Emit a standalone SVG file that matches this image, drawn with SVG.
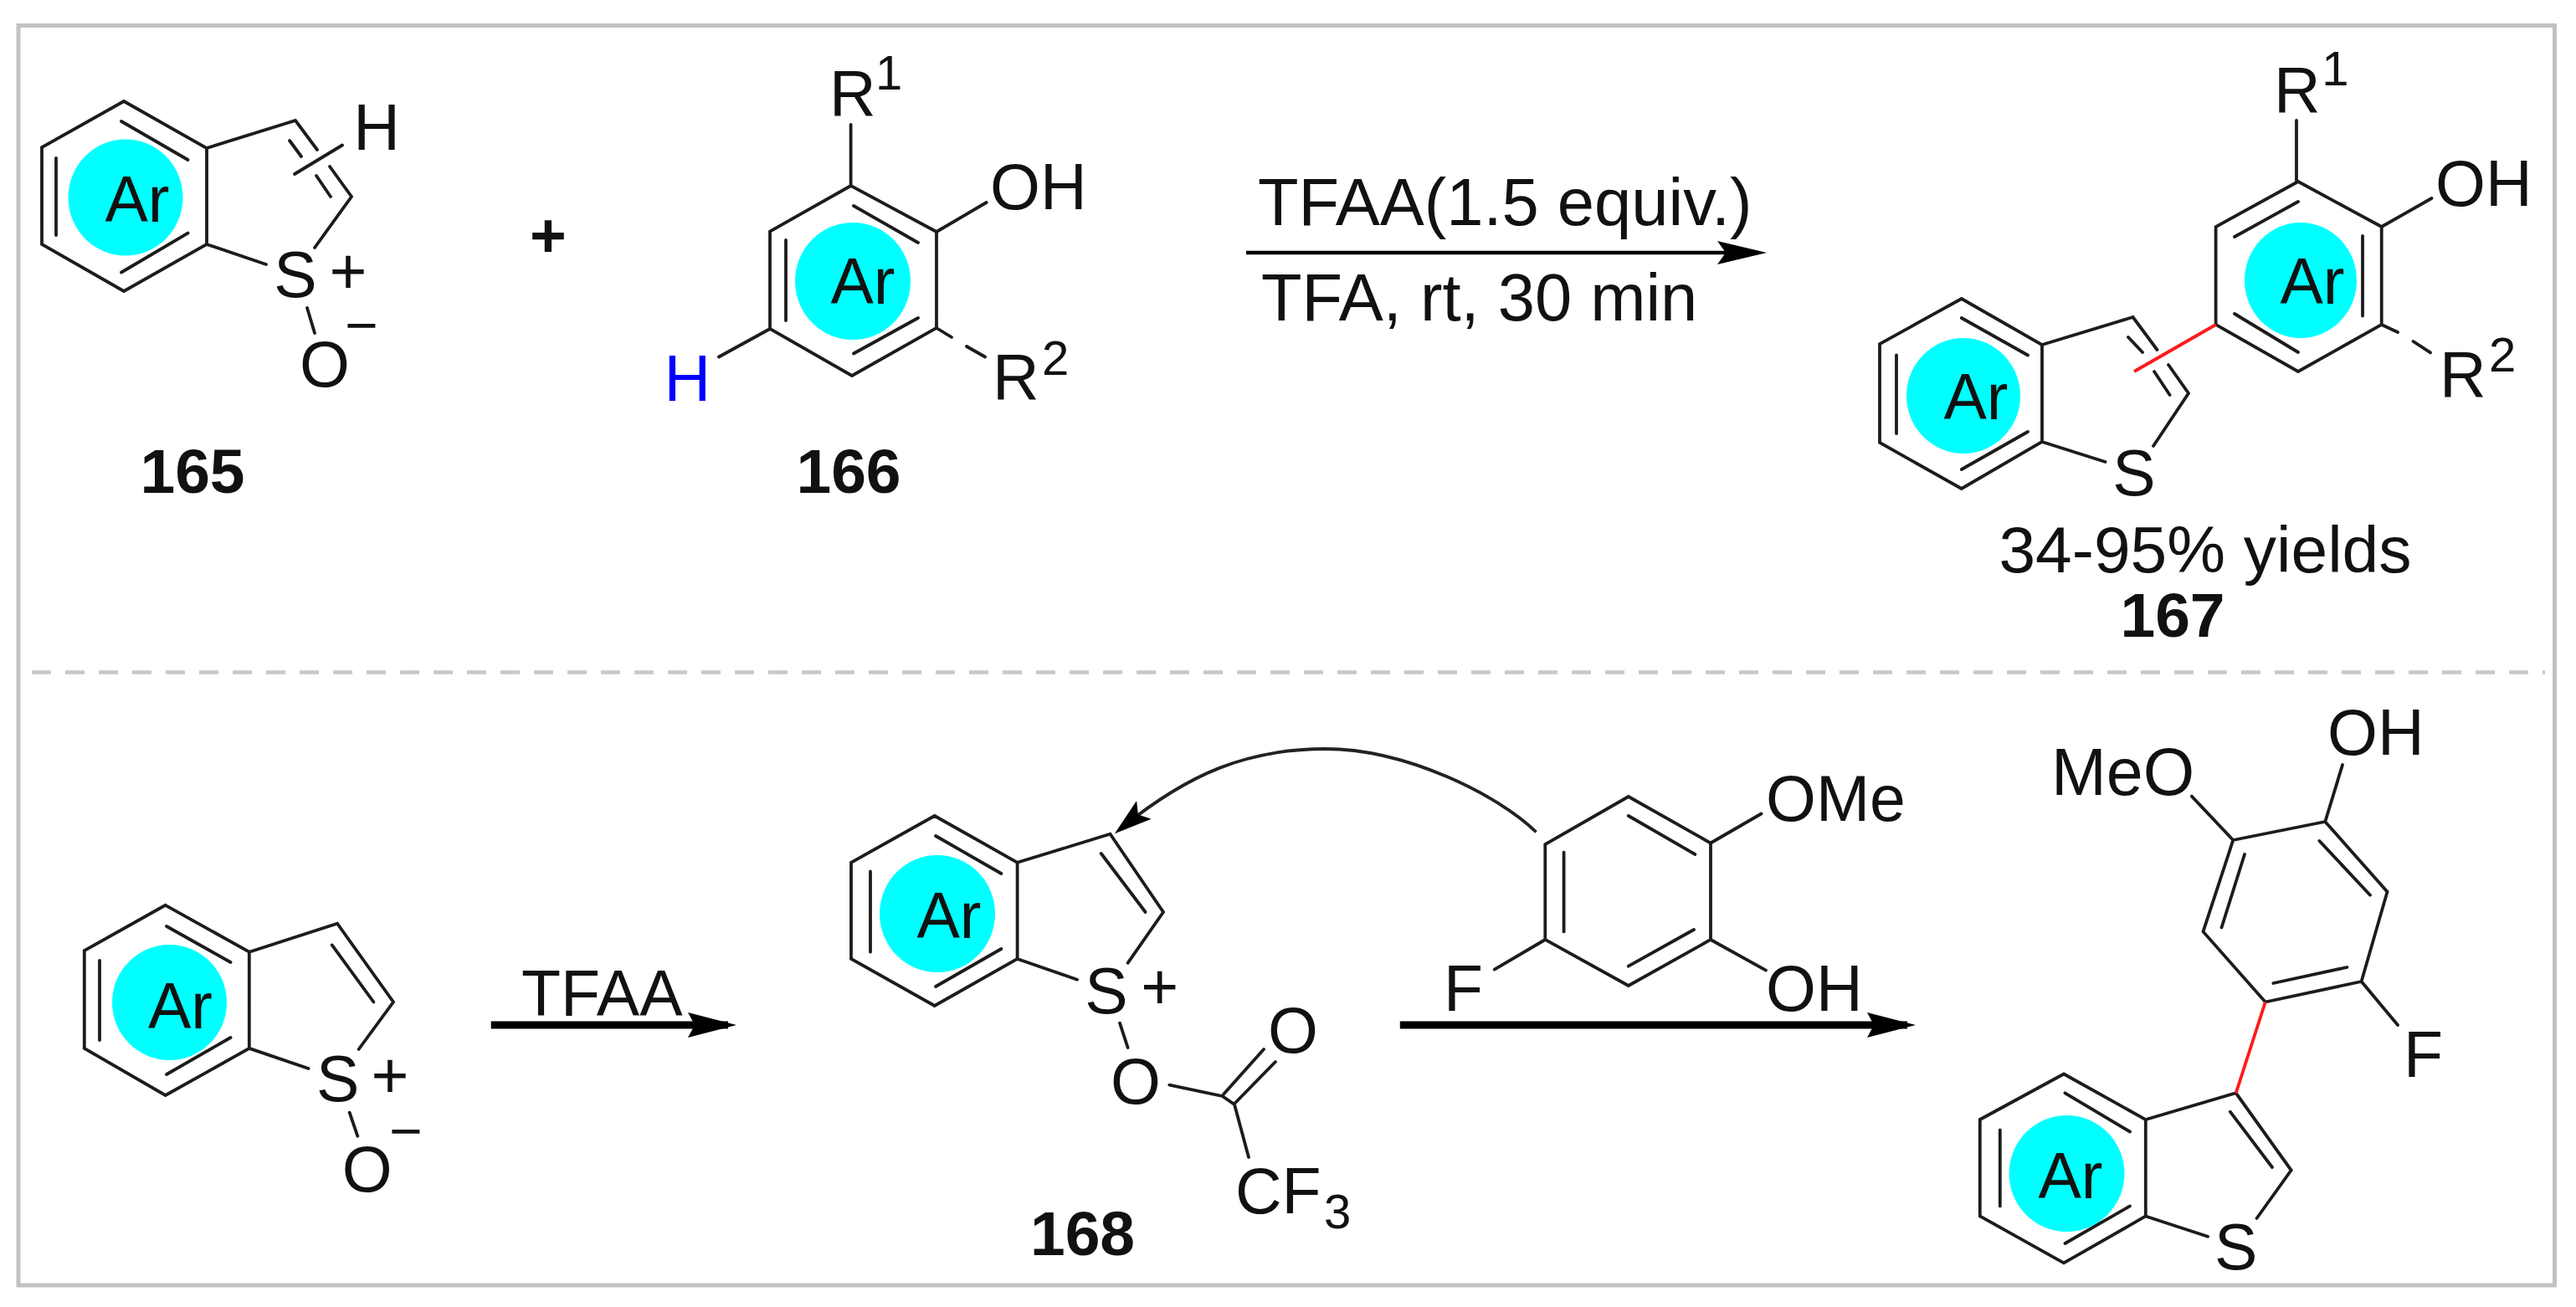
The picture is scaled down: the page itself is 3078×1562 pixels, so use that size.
<svg xmlns="http://www.w3.org/2000/svg" width="3078" height="1562" viewBox="0 0 3078 1562">
<style>
text{font-family:"Liberation Sans",Arial,sans-serif;font-size:77px;fill:#111}
.m{text-anchor:middle}
.b{font-weight:bold;font-size:75px}
.s{font-size:58px}
.r{font-size:79.500px}
.q{font-size:68px}
.bond{fill:none;stroke:#1c1c1c;stroke-width:3.8;stroke-linecap:round;stroke-linejoin:miter}
.ar{fill:#00ffff}
.red{stroke:#ff1a1a;stroke-width:3.8;fill:none}
</style>
<defs>
<marker id="thin" markerUnits="userSpaceOnUse" markerWidth="60" markerHeight="32" viewBox="0 0 60 32" refX="49" refY="16" orient="auto"><path d="M0 2 L59 16 L0 30 L10 16Z" fill="#000"/></marker>
<marker id="thick" markerUnits="userSpaceOnUse" markerWidth="60" markerHeight="34" viewBox="0 0 60 34" refX="48" refY="17" orient="auto"><path d="M0 2 L58 17 L0 32 L8 17Z" fill="#000"/></marker>
<marker id="curve" markerUnits="userSpaceOnUse" markerWidth="46" markerHeight="30" viewBox="0 0 46 30" refX="32" refY="15" orient="auto"><path d="M45 15 L0 1 L9 15 L0 29Z" fill="#000"/></marker>
</defs>
<rect width="3078" height="1562" fill="#fff"/>
<g id="frame">
<rect x="22" y="30.5" width="3030.5" height="1505.5" fill="none" stroke="#c2c2c2" stroke-width="5"/>
<line x1="38" y1="803.5" x2="3041" y2="803.5" stroke="#c8c8c8" stroke-width="4.5" stroke-dasharray="23 17"/>
</g>

<g id="n165">
<ellipse class="ar" cx="150" cy="236" rx="68.5" ry="69.5"/>
<path class="bond" d="M148 121L247 177V292L148 348L50 292V176ZM145 145L224.500 191M67 189V281M145 325.500L224.500 278.600M247 177L353 144L379 179M394 199L420 235L376 296M247 292L318 316M346 168L360 187M378 210L395 235M352 208L409 173.500M367 368L376 398"/>
<text class="m" x="164" y="265">Ar</text>
<text class="m" x="450" y="178.500">H</text>
<text class="m" x="353" y="355">S</text>
<text class="m" x="416" y="351">+</text>
<text class="m" x="388" y="462">O</text>
<text class="m q" x="432" y="412">−</text>
<text class="m b" x="230" y="589">165</text>
</g>
<text id="plus" class="m b" x="655" y="307">+</text>

<g id="n166">
<ellipse class="ar" cx="1019" cy="336" rx="69" ry="70"/>
<path class="bond" d="M1016.600 222L1119 277V392L1018 449L920 393V276.500ZM1020 246L1097 290M939 287V383M1020 422.500L1097 380M1016.600 149V222M1119 277L1178.600 242M1119 392L1137 403M1155 414L1177 426.500M859 426.500L920 393"/>
<text class="m" x="1031" y="363">Ar</text>
<text x="991" y="138">R</text>
<text class="s" x="1046" y="107">1</text>
<text x="1183" y="250">OH</text>
<text x="1186" y="477">R</text>
<text class="s" x="1245" y="448">2</text>
<text class="m" x="821.400" y="478.500" style="fill:#0000ff">H</text>
<text class="m b" x="1014" y="589">166</text>
</g>

<g id="conditions">
<text class="r" x="1503" y="269">TFAA(1.5 equiv.)</text>
<text class="r" x="1507" y="382.500">TFA, rt, 30 min</text>
</g>

<g id="n167">
<ellipse class="ar" cx="2749" cy="335" rx="67" ry="69"/>
<ellipse class="ar" cx="2346" cy="473" rx="68" ry="69"/>
<path class="bond" d="M2746 217L2845.700 271V388L2746 444L2647.600 388V271ZM2670 283L2746 241M2823 282V377.500M2670 375L2746 421M2744 144V217M2845.700 271L2905.500 237M2845.700 388L2865 397M2883.500 408L2904 421.400M2343.800 357L2440 412V528L2343.800 584L2246 529V411ZM2343.800 380L2423 424.500M2266 424.500V518M2343.800 561L2423 516M2440 412L2548.600 379L2577.500 418M2591 436L2615 470L2573 533M2440 528L2515.600 552M2543 403L2560 421M2574 444L2592.600 472"/>
<path class="red" d="M2550 444L2647.600 388"/>
<text class="m" x="2763" y="363">Ar</text>
<text class="m" x="2361" y="501">Ar</text>
<text x="2717" y="133.500">R</text>
<text class="s m" x="2790.500" y="102">1</text>
<text x="2910" y="246">OH</text>
<text x="2915" y="473.500">R</text>
<text class="s" x="2974" y="444">2</text>
<text class="m" x="2550" y="592">S</text>
<text class="m" x="2635" y="684" style="font-size:78.500px">34-95% yields</text>
<text class="m b" x="2596" y="761">167</text>
</g>

<g id="n1">
<ellipse class="ar" cx="202.500" cy="1198" rx="68.500" ry="69"/>
<path class="bond" d="M197.700 1081.800L297.800 1137.700V1252.900L197.700 1309L100.800 1252.900V1136ZM199 1107L275.500 1150M119 1148V1243M199 1284L275.500 1240M297.800 1137.700L403 1103.700L470 1197.500L428.600 1254M297.800 1252.900L368.600 1277M396.700 1129.400L446.400 1197.500M417.700 1329.600L427.300 1357.800"/>
<text class="m" x="215.500" y="1228.500">Ar</text>
<text class="m" x="403.700" y="1316">S</text>
<text class="m" x="466" y="1312">+</text>
<text class="m" x="438.800" y="1424.400">O</text>
<text class="m q" x="485" y="1375">−</text>
</g>
<text id="tfaa" x="623" y="1214">TFAA</text>

<g id="n168">
<ellipse class="ar" cx="1120" cy="1092" rx="69" ry="70"/>
<path class="bond" d="M1116.700 975L1215.600 1030.800V1146L1116.700 1202L1017 1146V1030.800ZM1118 999L1196.400 1044M1040 1041.500V1137.700M1118 1179L1196.400 1134M1215.600 1030.800L1326.500 996.800L1390 1090L1347.600 1150.800M1215.600 1146L1287 1170.700M1315.700 1020L1368.600 1090M1338 1222.700L1347.600 1252M1397.300 1296.600L1460.500 1310L1475 1320L1492 1383M1462 1307.800L1510 1254M1475 1319L1524 1269"/>
<text class="m" x="1134" y="1120.500">Ar</text>
<text class="m" x="1322" y="1210.500">S</text>
<text class="m" x="1385.800" y="1206">+</text>
<text class="m" x="1357" y="1319">O</text>
<text class="m" x="1545" y="1258">O</text>
<text x="1476" y="1450">CF</text>
<text class="s" x="1582" y="1468">3</text>
<text class="m b" x="1293.500" y="1499.500">168</text>
</g>

<g id="phenol">
<path class="bond" d="M1945.800 952L2044 1007.500V1123L1945.800 1178L1846.300 1123V1009ZM1868.600 1018.700V1113.400M1945.800 975L2025.400 1021M1945.800 1154.700L2024 1111M1846.300 1123L1785.700 1158.600M2044 1007.500L2104.500 972.500M2044 1123L2110 1159.600"/>
<text x="1725" y="1208">F</text>
<text x="2110" y="980.500">OMe</text>
<text x="2110" y="1208">OH</text>
</g>

<g id="product">
<ellipse class="ar" cx="2469.500" cy="1402.500" rx="69" ry="69.500"/>
<path class="bond" d="M2668.300 1004L2778.300 982L2852.500 1065.800L2821.600 1173L2706.800 1197.500L2632.500 1113.400ZM2618.800 951.600L2668.300 1004M2799 914L2778.300 982M2771.400 1005L2832 1069.700M2682 1021L2654.500 1108.500M2716.400 1175L2804.400 1156M2821.600 1173L2865 1225M2466 1283.500L2563.800 1338V1453.500L2466 1509.400L2365.800 1453.500V1338ZM2467.500 1306.300L2545 1352.500M2389.800 1350.500V1441.400M2467.500 1486L2545 1441.400M2563.800 1338L2671.700 1306.300L2737.700 1398.600L2696.500 1456M2563.800 1453.500L2638 1477.800M2664.800 1328.700L2715 1395"/>
<path class="red" d="M2706.800 1197.500L2671.700 1306.300"/>
<text class="m" x="2474" y="1431.500">Ar</text>
<text x="2451" y="949.500" style="font-size:79px">MeO</text>
<text x="2781" y="902">OH</text>
<text x="2872" y="1287">F</text>
<text class="m" x="2671.700" y="1516.500">S</text>
</g>

<g id="connectors">
<line x1="1489" y1="302" x2="2101" y2="302" stroke="#000" stroke-width="4.5" marker-end="url(#thin)"/>
<line x1="586.700" y1="1225" x2="870" y2="1225" stroke="#000" stroke-width="9" marker-end="url(#thick)"/>
<line x1="1672.800" y1="1225" x2="2279" y2="1225" stroke="#000" stroke-width="9" marker-end="url(#thick)"/>
<path d="M1835.500 994.400C1790 950 1680 895 1583.500 895C1490 895 1420 925 1342 988" fill="none" stroke="#222" stroke-width="3.800" marker-end="url(#curve)"/>
</g>
</svg>
